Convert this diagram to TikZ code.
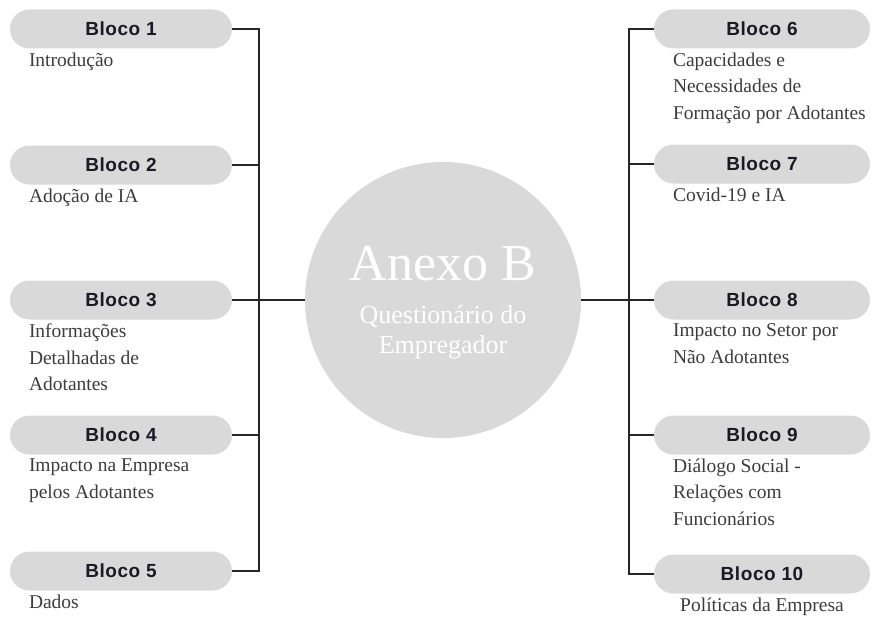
\documentclass[tikz,border=0pt]{standalone}
\usepackage{fontspec}
\setmainfont{Liberation Serif}
\newfontfamily\blocofont{Liberation Sans}[LetterSpace=3]
\definecolor{cinza}{HTML}{D9D9D9}
\definecolor{tinta}{HTML}{1A1A26}
\definecolor{texto}{HTML}{3C3C3C}
\definecolor{linha}{HTML}{262626}

\begin{document}
\begin{tikzpicture}[x=1pt, y=-1pt,
  bloco/.style={fill=cinza, rounded corners=19.5pt, minimum width=222pt, minimum height=39pt, inner sep=0pt, text=tinta, font=\blocofont\bfseries\fontsize{19}{21}\selectfont},
  blocod/.style={bloco, minimum width=216pt},
  desc/.style={anchor=north west, inner sep=0pt, align=left, text=texto, font=\fontsize{19.5}{26.5}\selectfont},
  conector/.style={draw=linha, line width=1.8pt}]
  \useasboundingbox (0,0) rectangle (874,618);
  \node[circle, fill=cinza, minimum size=276pt, inner sep=0pt] (anexo) at (443,300) {};
  \node[anchor=base, text=white, font=\fontsize{52}{56}\selectfont] (titulo) at (443,280) {Anexo B};
  \node[anchor=north, align=center, inner sep=0pt, text=white, font=\fontsize{26}{30}\selectfont] (subtitulo) at (443,305) {Questionário do\\Empregador};
  \node[bloco] (b1) at (121,29) {Bloco 1};
  \node[bloco] (b2) at (121,165) {Bloco 2};
  \node[bloco] (b3) at (121,300) {Bloco 3};
  \node[bloco] (b4) at (121,435) {Bloco 4};
  \node[bloco] (b5) at (121,571) {Bloco 5};
  \node[blocod] (b6) at (762,29) {Bloco 6};
  \node[blocod] (b7) at (762,164) {Bloco 7};
  \node[blocod] (b8) at (762,300) {Bloco 8};
  \node[blocod] (b9) at (762,435) {Bloco 9};
  \node[blocod] (b10) at (762,574) {Bloco 10};
  \node[desc] (d1) at ([xshift=19pt, yshift=-4pt]b1.south west) {Introdução};
  \node[desc] (d2) at ([xshift=19pt, yshift=-4pt]b2.south west) {Adoção de IA};
  \node[desc] (d3) at ([xshift=19pt, yshift=-4pt]b3.south west) {Informações\\Detalhadas de\\Adotantes};
  \node[desc] (d4) at ([xshift=19pt, yshift=-4pt]b4.south west) {Impacto na Empresa\\pelos Adotantes};
  \node[desc] (d5) at ([xshift=19pt, yshift=-4pt]b5.south west) {Dados};
  \node[desc] (d6) at ([xshift=19pt, yshift=-4pt]b6.south west) {Capacidades e\\Necessidades de\\Formação por Adotantes};
  \node[desc] (d7) at ([xshift=19pt, yshift=-4pt]b7.south west) {Covid-19 e IA};
  \node[desc] (d8) at ([xshift=19pt, yshift=-4pt]b8.south west) {Impacto no Setor por\\Não Adotantes};
  \node[desc] (d9) at ([xshift=19pt, yshift=-4pt]b9.south west) {Diálogo Social -\\Relações com\\Funcionários};
  \node[desc, anchor=north] (d10) at ([yshift=-4pt]b10.south) {Políticas da Empresa};
  \coordinate (eixoE) at (259,300);
  \coordinate (eixoD) at (629,300);
  \draw[conector] (b1.east) -| (eixoE) |- (b5.east);
  \draw[conector] (b6.west) -| (eixoD) |- (b10.west);
  \foreach \b in {b2,b4} \draw[conector] (\b.east) -- (\b.east -| eixoE);
  \foreach \b in {b7,b9} \draw[conector] (\b.west) -- (\b.west -| eixoD);
  \draw[conector] (b3.east) -- (anexo.west);
  \draw[conector] (b8.west) -- (anexo.east);
\end{tikzpicture}
\end{document}
